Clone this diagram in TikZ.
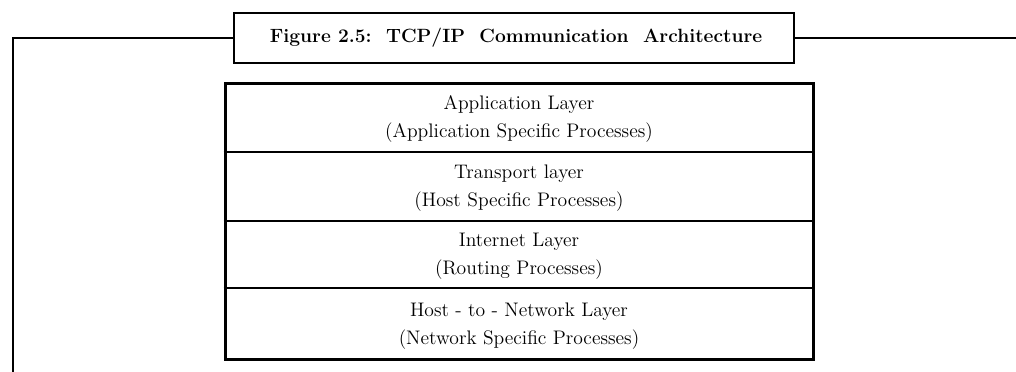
\documentclass[tikz,border=0pt]{standalone}
\begin{document}
\begin{tikzpicture}[x=0.75pt,y=-0.75pt,
  frame/.style={line width=1.5pt},
  sep/.style={line width=1.5pt},
  rowtext/.style={font=\fontsize{14.7}{21}\selectfont, align=center, inner sep=0pt},
  titlebox/.style={draw, line width=1.5pt, minimum width=420pt, minimum height=37.5pt,
    inner sep=0pt, font=\fontsize{14.4}{16}\selectfont\bfseries},
]
\useasboundingbox (0,0) rectangle (1016,371);
% caption box on the frame
\node[titlebox] (title) at (514,38) {\hspace{3pt}Figure~2.5:~~TCP/IP~~Communication~~Architecture};
\coordinate (fl) at (13,38);
\coordinate (fb) at (13,372);
\coordinate (fr) at (1017,38);
\draw[frame] (fb) -- (fl) -- (title.west);
\draw[frame] (title.east) -- (fr);
% layer stack
\node[draw, line width=2.25pt, minimum width=441pt, minimum height=207pt, inner sep=0pt] (tbl) at (519,221) {};
\coordinate (s1) at (0,152);
\coordinate (s2) at (0,221);
\coordinate (s3) at (0,288);
\draw[sep] (tbl.west |- s1) -- (tbl.east |- s1);
\draw[sep] (tbl.west |- s2) -- (tbl.east |- s2);
\draw[sep] (tbl.west |- s3) -- (tbl.east |- s3);
\node[rowtext] (app) at (519,119) {Application Layer\\(Application Specific Processes)};
\node[rowtext] (tra) at (519,188) {Transport layer\\(Host Specific Processes)};
\node[rowtext] (int) at (519,256.5) {Internet Layer\\(Routing Processes)};
\node[rowtext] (h2n) at (519,326) {Host - to - Network Layer\\(Network Specific Processes)};
\end{tikzpicture}
\end{document}
